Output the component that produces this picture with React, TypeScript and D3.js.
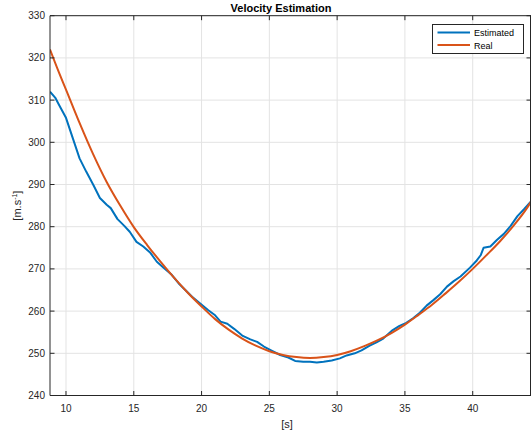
import React from "react";
import * as d3 from "d3";

const realX = [8.82, 9.5, 10, 11, 12, 13, 14, 15, 16, 17, 18, 19, 20, 21, 22, 23, 24, 25, 26, 27, 28, 29, 30, 31, 32, 33, 34, 35, 36, 37, 38, 39, 40, 41, 42, 43, 44, 44.3];
const realY = [322, 316.4, 312.5, 304.6, 297.2, 290.6, 285.0, 279.9, 275.6, 271.6, 267.8, 264.3, 261.1, 258.1, 255.6, 253.5, 251.8, 250.5, 249.6, 249.1, 248.9, 249.1, 249.6, 250.5, 251.7, 253.1, 254.8, 256.8, 259.1, 261.5, 264.2, 267.0, 270.0, 273.2, 276.5, 280.2, 284.4, 285.9];

const estX = [8.82, 9.2, 9.5, 10, 10.5, 11, 11.5, 12, 12.5, 13, 13.3, 13.8, 14.3, 14.7, 15.2, 15.7, 16.2, 16.7, 17.2, 17.8, 18.3, 18.8, 19.3, 19.9, 20.5, 21, 21.4, 21.9, 22.4, 23, 23.6, 24.1, 24.6, 25.2, 25.8, 26.4, 26.9, 27.5, 28, 28.5, 29, 29.6, 30.2, 30.7, 31.3, 31.8, 32.4, 32.9, 33.4, 34.1, 34.6, 35.1, 35.6, 36.1, 36.6, 37.1, 37.6, 38.1, 38.6, 39.1, 39.8, 40.3, 40.6, 40.8, 41.3, 41.8, 42.3, 42.8, 43.3, 43.8, 44.3];
const estY = [312, 310.6, 308.8, 305.8, 301, 296.2, 293, 290, 286.8, 285.2, 284.4, 281.8, 280.2, 278.8, 276.4, 275.3, 273.9, 271.7, 270.3, 268.6, 266.6, 265, 263.4, 261.8, 260.2, 259, 257.5, 257, 255.8, 254.2, 253.3, 252.7, 251.6, 250.6, 249.6, 249, 248.2, 248, 248, 247.8, 248, 248.3, 248.8, 249.5, 250, 250.7, 251.8, 252.6, 253.5, 255.5, 256.5, 257.2, 258.3, 259.6, 261.3, 262.6, 264, 265.8, 267.1, 268.2, 270.3, 272, 273.3, 275, 275.3, 276.9, 278.3, 280.2, 282.5, 284.2, 286];

const xTicks = [10, 15, 20, 25, 30, 35, 40];
const yTicks = [240, 250, 260, 270, 280, 290, 300, 310, 320, 330];
const seriesNames = ["Estimated", "Real"];
const seriesColors = ["#0072BD", "#D95319"];

export default function App() {
  const W = 531, H = 436;
  const L = 50, R = 531, T = 15.7, B = 395.5;
  const x = d3.scaleLinear().domain([8.82, 44.3]).range([L, R]);
  const y = d3.scaleLinear().domain([240, 330]).range([B, T]);
  const estLine = d3.line<number[]>().x((d) => x(d[0])).y((d) => y(d[1]));
  const realLine = d3.line<number[]>().x((d) => x(d[0])).y((d) => y(d[1])).curve(d3.curveMonotoneX);
  const estPts = estX.map((v, i) => [v, estY[i]]);
  const realPts = realX.map((v, i) => [v, realY[i]]);
  const font = "'Liberation Sans', Arial, Helvetica, sans-serif";
  const axisColor = "#262626";
  const tl = 4.5;
  return (
    <svg width={W} height={H} style={{ position: "fixed", left: 0, top: 0, background: "#fff" }} fontFamily={font}>
      <defs>
        <clipPath id="plotclip">
          <rect x={L} y={T} width={R - L} height={B - T} />
        </clipPath>
      </defs>
      <rect x={0} y={0} width={W} height={H} fill="#fff" />
      {xTicks.map((t) => (
        <line key={"gx" + t} x1={x(t)} x2={x(t)} y1={T} y2={B} stroke="#e3e3e3" strokeWidth={1} />
      ))}
      {yTicks.map((t) => (
        <line key={"gy" + t} x1={L} x2={R} y1={y(t)} y2={y(t)} stroke="#e3e3e3" strokeWidth={1} />
      ))}
      <g clipPath="url(#plotclip)">
        <path d={estLine(estPts) || ""} fill="none" stroke={seriesColors[0]} strokeWidth={2} strokeLinejoin="round" />
        <path d={realLine(realPts) || ""} fill="none" stroke={seriesColors[1]} strokeWidth={2} strokeLinejoin="round" />
      </g>
      <line x1={L} x2={L} y1={T} y2={B} stroke={axisColor} strokeWidth={1} />
      <line x1={L} x2={R} y1={B} y2={B} stroke={axisColor} strokeWidth={1} />
      <line x1={L} x2={R} y1={T} y2={T} stroke={axisColor} strokeWidth={1} />
      <line x1={R - 0.5} x2={R - 0.5} y1={T} y2={B} stroke={axisColor} strokeWidth={1} />
      {xTicks.map((t) => (
        <g key={"xt" + t}>
          <line x1={x(t)} x2={x(t)} y1={B} y2={B - tl} stroke={axisColor} />
          <line x1={x(t)} x2={x(t)} y1={T} y2={T + tl} stroke={axisColor} />
          <text x={x(t)} y={B + 16} fontSize={10} textAnchor="middle" fill={axisColor}>{t}</text>
        </g>
      ))}
      {yTicks.map((t) => (
        <g key={"yt" + t}>
          <line x1={L} x2={L + tl} y1={y(t)} y2={y(t)} stroke={axisColor} />
          <line x1={R} x2={R - tl} y1={y(t)} y2={y(t)} stroke={axisColor} />
          <text x={L - 5} y={y(t) + 3.5} fontSize={10} textAnchor="end" fill={axisColor}>{t}</text>
        </g>
      ))}
      <text x={281} y={12} fontSize={11} fontWeight="bold" textAnchor="middle" fill="#000">Velocity Estimation</text>
      <text x={287} y={428} fontSize={11} textAnchor="middle" fill={axisColor}>[s]</text>
      <text transform={`translate(21, ${(T + B) / 2}) rotate(-90)`} fontSize={11} textAnchor="middle" fill={axisColor}>
        [m.s<tspan dy={-4} fontSize={7}>-1</tspan><tspan dy={4}>]</tspan>
      </text>
      <rect x={432.5} y={24.5} width={91} height={29} fill="#fff" stroke={axisColor} strokeWidth={1} />
      {seriesNames.map((n, i) => (
        <g key={n}>
          <line x1={437.5} x2={470} y1={32.5 + i * 12.5} y2={32.5 + i * 12.5} stroke={seriesColors[i]} strokeWidth={2} />
          <text x={474} y={36 + i * 12.5} fontSize={9} fill="#000">{n}</text>
        </g>
      ))}
    </svg>
  );
}
